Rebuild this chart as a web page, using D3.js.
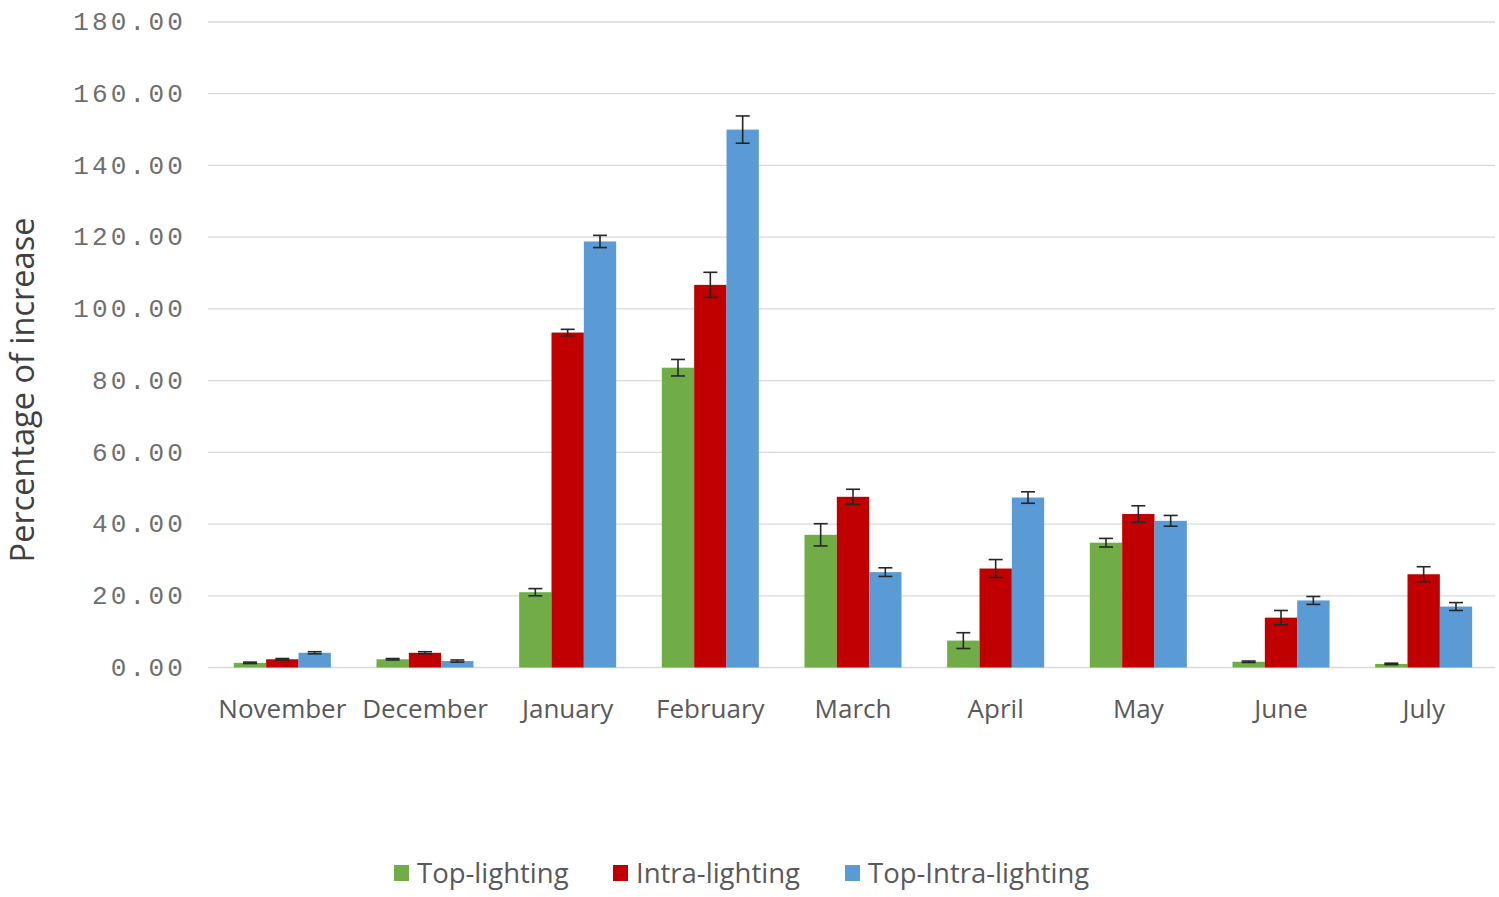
<!DOCTYPE html>
<html>
<head>
<meta charset="utf-8">
<script src="https://cdn.jsdelivr.net/npm/d3@7"></script>
<style>
  html, body { margin: 0; padding: 0; background: #ffffff; }
  svg { display: block; }
</style>
</head>
<body>
<svg id="chart" width="1499" height="897"></svg>
<script>
const categories = ["November", "December", "January", "February", "March", "April", "May", "June", "July"];
const seriesNames = ["Top-lighting", "Intra-lighting", "Top-Intra-lighting"];
const seriesColors = ["#70AD47", "#C00000", "#5B9BD5"];
const topLighting      = [1.3, 2.3, 21.0, 83.6, 37.0, 7.5, 34.8, 1.6, 1.0];
const topLightingErr   = [0.2, 0.2, 1.0, 2.3, 3.1, 2.2, 1.2, 0.2, 0.2];
const intraLighting    = [2.3, 4.1, 93.4, 106.7, 47.6, 27.6, 42.8, 13.9, 26.0];
const intraLightingErr = [0.2, 0.3, 0.9, 3.5, 2.1, 2.5, 2.3, 2.0, 2.1];
const topIntra         = [4.1, 1.8, 118.8, 150.0, 26.6, 47.4, 40.9, 18.7, 17.0];
const topIntraErr      = [0.3, 0.3, 1.7, 3.8, 1.2, 1.6, 1.5, 1.1, 1.1];
const yTicks = [0, 20, 40, 60, 80, 100, 120, 140, 160, 180];

const values = [topLighting, intraLighting, topIntra];
const errors = [topLightingErr, intraLightingErr, topIntraErr];

const svg = d3.select("#chart");
const x = d3.scaleBand().domain(categories).range([211, 1495]).paddingInner(0.32).paddingOuter(0.16);
const xs = d3.scaleBand().domain(d3.range(3)).range([0, x.bandwidth()]);
const y = d3.scaleLinear().domain([0, 180]).range([667.5, 22]);

// gridlines
svg.append("g").selectAll("line").data(yTicks).join("line")
  .attr("x1", 208).attr("x2", 1495)
  .attr("y1", d => y(d)).attr("y2", d => y(d))
  .attr("stroke", "#d9d9d9").attr("stroke-width", 1.3);

// y axis labels
const yAxis = d3.axisLeft(y).tickValues(yTicks).tickFormat(d3.format(".2f")).tickSize(0).tickPadding(0);
const gy = svg.append("g").attr("transform", "translate(186,0)").call(yAxis);
gy.select(".domain").remove();
gy.selectAll("text")
  .attr("font-family", "'Liberation Mono', 'Courier New', monospace")
  .attr("font-size", 26).attr("fill", "#6f6f6f")
  .attr("letter-spacing", 3.2).attr("dy", "0.3em");

// x axis labels
const xAxis = d3.axisBottom(x).tickSize(0).tickPadding(0);
const gx = svg.append("g").call(xAxis);
gx.select(".domain").remove();
gx.selectAll("text")
  .attr("y", 718).attr("dy", 0)
  .attr("font-family", "'Open Sans', sans-serif")
  .attr("font-size", 26).attr("fill", "#595959");

// bars
const groups = svg.append("g").selectAll("g").data(categories).join("g")
  .attr("transform", d => "translate(" + x(d) + ",0)");

groups.selectAll("rect").data((c, i) => values.map((s, k) => ({k, v: s[i], e: errors[k][i]})))
  .join("rect")
  .attr("x", d => xs(d.k)).attr("width", xs.bandwidth())
  .attr("y", d => y(d.v)).attr("height", d => y(0) - y(d.v))
  .attr("fill", d => seriesColors[d.k]);

// error bars
const eb = groups.selectAll("g.err").data((c, i) => values.map((s, k) => ({k, v: s[i], e: errors[k][i]})))
  .join("g").attr("class", "err");
const capW = 7;
eb.append("line")
  .attr("x1", d => xs(d.k) + xs.bandwidth() / 2).attr("x2", d => xs(d.k) + xs.bandwidth() / 2)
  .attr("y1", d => y(d.v + d.e)).attr("y2", d => y(d.v - d.e));
eb.append("line")
  .attr("x1", d => xs(d.k) + xs.bandwidth() / 2 - capW).attr("x2", d => xs(d.k) + xs.bandwidth() / 2 + capW)
  .attr("y1", d => y(d.v + d.e)).attr("y2", d => y(d.v + d.e));
eb.append("line")
  .attr("x1", d => xs(d.k) + xs.bandwidth() / 2 - capW).attr("x2", d => xs(d.k) + xs.bandwidth() / 2 + capW)
  .attr("y1", d => y(d.v - d.e)).attr("y2", d => y(d.v - d.e));
eb.selectAll("line").attr("stroke", "#262626").attr("stroke-width", 1.6);

// y axis title
svg.append("text")
  .attr("transform", "translate(34,390) rotate(-90)")
  .attr("text-anchor", "middle")
  .attr("font-family", "'Open Sans', sans-serif")
  .attr("font-size", 32.5).attr("fill", "#404040")
  .text("Percentage of increase");

// legend
const legendX = [394, 613, 845];
const lg = svg.append("g").selectAll("g").data(seriesNames).join("g")
  .attr("transform", (d, i) => "translate(" + legendX[i] + ",865)");
lg.append("rect").attr("width", 15).attr("height", 16).attr("fill", (d, i) => seriesColors[i]);
lg.append("text").attr("x", 23).attr("y", 8).attr("dy", "0.36em")
  .attr("font-family", "'Open Sans', sans-serif")
  .attr("font-size", 27.5).attr("fill", "#595959")
  .text(d => d);
</script>
</body>
</html>
